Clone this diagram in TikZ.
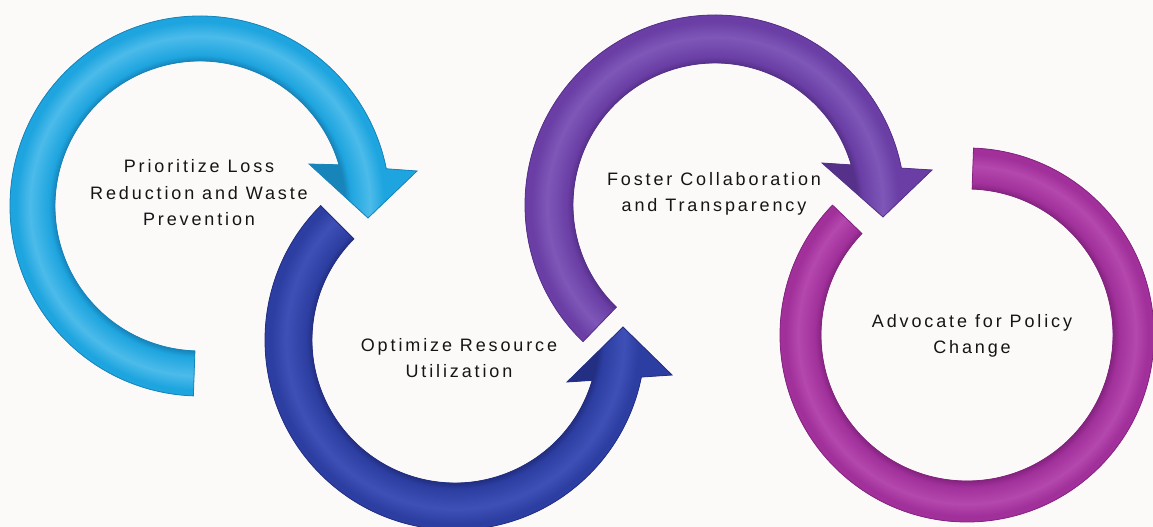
\documentclass[tikz,border=0pt]{standalone}
\usepackage{fontspec}
\setmainfont{Liberation Sans}[LetterSpace=16]
\definecolor{bg}{HTML}{FCF9F9}
\definecolor{txt}{HTML}{151515}
\definecolor{aOneB}{HTML}{1EA5DF}
\definecolor{aOneD}{HTML}{1784BA}
\definecolor{aOneL}{HTML}{4CBBEA}
\definecolor{aTwoB}{HTML}{2D3EA2}
\definecolor{aTwoD}{HTML}{222F82}
\definecolor{aTwoL}{HTML}{3E50B6}
\definecolor{aThrB}{HTML}{6A3EA5}
\definecolor{aThrD}{HTML}{56318A}
\definecolor{aThrL}{HTML}{7E57B8}
\definecolor{aFouB}{HTML}{A1309B}
\definecolor{aFouD}{HTML}{852480}
\definecolor{aFouL}{HTML}{B448AD}
\pgfdeclareradialshading{ringOne}{\pgfpointorigin}{color(0bp)=(aOneD); color(14.5bp)=(aOneD); color(15.1bp)=(aOneB); color(17.0bp)=(aOneL); color(18.4bp)=(aOneB); color(25bp)=(aOneB)}
\pgfdeclareradialshading{ringTwo}{\pgfpointorigin}{color(0bp)=(aTwoD); color(14.3bp)=(aTwoD); color(14.9bp)=(aTwoB); color(16.9bp)=(aTwoL); color(18.4bp)=(aTwoB); color(25bp)=(aTwoB)}
\pgfdeclareradialshading{ringThr}{\pgfpointorigin}{color(0bp)=(aThrD); color(14.2bp)=(aThrD); color(14.8bp)=(aThrB); color(16.8bp)=(aThrL); color(18.4bp)=(aThrB); color(25bp)=(aThrB)}
\pgfdeclareradialshading{ringFou}{\pgfpointorigin}{color(0bp)=(aFouD); color(14.6bp)=(aFouD); color(15.2bp)=(aFouB); color(16.9bp)=(aFouL); color(18.1bp)=(aFouB); color(25bp)=(aFouB)}
\tikzset{
  lbl/.style={font=\fontsize{18}{26.5}\selectfont, align=center, text=txt, inner sep=0pt},
  edge/.style={line width=0.8pt, line join=miter}
}
\begin{document}
\begin{tikzpicture}[x=1pt,y=1pt]
\useasboundingbox (0,0) rectangle (1153,527);
\clip (0,0) rectangle (1153,527);
\fill[bg] (0,0) rectangle (1153,527);
% arrow 1 (light blue)
\begin{scope}[shift={(200,321)}]
\path[fill=aOneB, draw=aOneD, edge, path picture={\shade[shading=ringOne] (-250,-250) rectangle (250,250);}]
  (268:190) arc[start angle=268, end angle=11.3, radius=190]
  -- (217,35) -- (168,-12) -- (109,42)
  -- (16.5:145) arc[start angle=16.5, end angle=268, radius=145] -- cycle;
\end{scope}
% arrow 2 (dark blue)
\begin{scope}[shift={(455,187)}]
\path[fill=aTwoB, draw=aTwoD, edge, path picture={\shade[shading=ringTwo] (-250,-250) rectangle (250,250);}]
  (135:190) arc[start angle=135, end angle=348.75, radius=190]
  -- (217,-35) -- (168,13) -- (112,-42)
  -- (343.6:143) arc[start angle=343.6, end angle=135, radius=143] -- cycle;
\end{scope}
% arrow 3 (purple)
\begin{scope}[shift={(715,322)}]
\path[fill=aThrB, draw=aThrD, edge, path picture={\shade[shading=ringThr] (-250,-250) rectangle (250,250);}]
  (226:190) arc[start angle=226, end angle=11.2, radius=190]
  -- (217,35) -- (168,-12) -- (107,42)
  -- (16.4:142) arc[start angle=16.4, end angle=226, radius=142] -- cycle;
\end{scope}
% arrow 4 (magenta ring)
\begin{scope}[shift={(967,192)}]
\path[fill=aFouB, draw=aFouD, edge, path picture={\shade[shading=ringFou] (-250,-250) rectangle (250,250);}]
  (136:187) arc[start angle=136, end angle=448, radius=187]
  -- (448:146) arc[start angle=448, end angle=136, radius=146] -- cycle;
\end{scope}
% labels
\node[lbl] (t1) at (199,334) {Prioritize Loss\\Reduction and Waste\\Prevention};
\node[lbl] (t2) at (459,169) {Optimize Resource\\Utilization};
\node[lbl] (t3) at (714,333) {Foster Collaboration\\and Transparency};
\node[lbl] (t4) at (972,191) {Advocate for Policy\\Change};
\end{tikzpicture}
\end{document}
